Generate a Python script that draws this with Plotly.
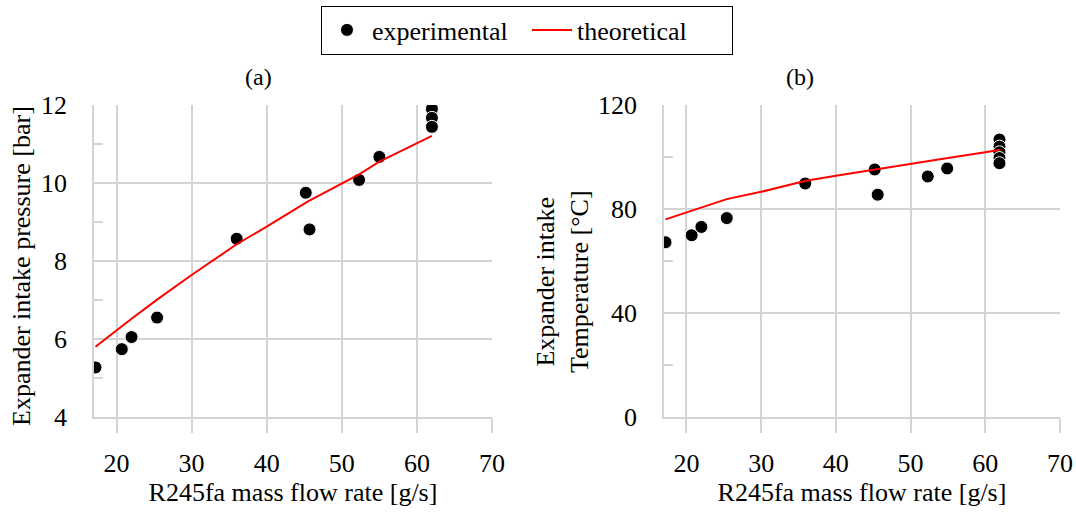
import plotly.graph_objects as go

# ---- data ----
flow_exp_p = [17.2, 20.7, 22.0, 25.4, 36.0, 45.2, 45.7, 52.3, 55.0, 62.0, 62.0, 62.0]
pressure_exp = [5.27, 5.74, 6.05, 6.55, 8.57, 9.75, 8.81, 10.08, 10.67, 11.90, 11.67, 11.44]

flow_exp_t = [17.2, 20.7, 22.0, 25.4, 35.9, 45.2, 45.6, 52.3, 54.9, 61.9, 61.9, 61.9, 61.9, 61.9]
temp_exp = [67.2, 69.9, 73.1, 76.5, 89.8, 95.2, 85.5, 92.5, 95.6, 106.7, 104.0, 101.8, 99.6, 97.6]

flow_theo = [17.2, 20.7, 22.0, 25.4, 30.0, 36.0, 40.0, 45.5, 50.0, 52.3, 55.0, 60.0, 62.0]
pressure_theo = [5.80, 6.33, 6.52, 7.01, 7.64, 8.43, 8.88, 9.53, 9.99, 10.22, 10.55, 11.02, 11.21]
temp_theo = [76.0, 79.3, 80.6, 83.8, 86.6, 90.9, 92.8, 95.3, 97.6, 98.5, 99.6, 101.8, 102.8]

x_ticks = [20, 30, 40, 50, 60, 70]

FONT = "Liberation Serif"
FS = 26
GRID = "#d4d4d4"

fig = go.Figure()

marker = dict(color="black", size=13, line=dict(color="white", width=1))

fig.add_trace(go.Scatter(x=flow_exp_p, y=pressure_exp, mode="markers", marker=marker,
                         name="experimental", xaxis="x", yaxis="y"))
fig.add_trace(go.Scatter(x=flow_theo, y=pressure_theo, mode="lines",
                         line=dict(color="#ff0000", width=2), name="theoretical",
                         xaxis="x", yaxis="y"))
fig.add_trace(go.Scatter(x=flow_exp_t, y=temp_exp, mode="markers", marker=marker,
                         showlegend=False, xaxis="x2", yaxis="y2"))
fig.add_trace(go.Scatter(x=flow_theo, y=temp_theo, mode="lines",
                         line=dict(color="#ff0000", width=2), showlegend=False,
                         xaxis="x2", yaxis="y2"))

W, H = 1076, 515
def px_x(p): return p / W
def px_y(p): return 1 - p / H

tfont = dict(family=FONT, size=FS, color="black")

xcommon = dict(range=[17, 70], tickvals=x_ticks, showgrid=True, gridcolor=GRID, gridwidth=1.5,
               showline=True, linecolor=GRID, linewidth=1.5, ticks="outside", ticklen=14,
               tickcolor=GRID, tickwidth=1.5, zeroline=False, ticklabelstandoff=8,
               tickfont=tfont,
               title=dict(text="R245fa mass flow rate [g/s]", font=tfont, standoff=0))
ycommon = dict(showgrid=True, gridcolor=GRID, gridwidth=1.5, showline=True, linecolor=GRID,
               linewidth=1.5, ticks="", zeroline=False, ticklabelstandoff=20,
               tickfont=tfont,
               minor=dict(ticks="inside", ticklen=9, tickcolor=GRID, tickwidth=1.5, showgrid=False))

fig.update_layout(
    width=W, height=H,
    margin=dict(l=0, r=0, t=0, b=0, autoexpand=False),
    plot_bgcolor="white", paper_bgcolor="white",
    font=dict(family=FONT, color="black"),
    xaxis=dict(domain=[px_x(94), px_x(492)], anchor="y", **xcommon),
    yaxis=dict(domain=[px_y(417), px_y(105)], anchor="x", range=[4, 12], dtick=2, **ycommon),
    xaxis2=dict(domain=[px_x(664), px_x(1060)], anchor="y2", **xcommon),
    yaxis2=dict(domain=[px_y(417), px_y(105)], anchor="x2", range=[0, 120], dtick=40, **ycommon),
    showlegend=True,
    legend=dict(orientation="h", x=527 / W, y=px_y(30), xanchor="center", yanchor="middle",
                bordercolor="black", borderwidth=1, bgcolor="white",
                font=tfont, itemwidth=40, tracegroupgap=0,
                entrywidth=150, entrywidthmode="pixels"),
)
fig.layout.yaxis.minor.dtick = 1
fig.layout.yaxis2.minor.dtick = 20

ann_font = dict(family=FONT, size=24, color="black")
fig.add_annotation(text="(a)", x=px_x(258), y=px_y(77), xref="paper", yref="paper",
                   showarrow=False, font=ann_font, xanchor="center", yanchor="middle")
fig.add_annotation(text="(b)", x=px_x(800), y=px_y(77), xref="paper", yref="paper",
                   showarrow=False, font=ann_font, xanchor="center", yanchor="middle")
fig.add_annotation(text="Expander intake pressure [bar]", x=px_x(21), y=px_y(266),
                   xref="paper", yref="paper", showarrow=False, font=tfont, textangle=-90,
                   xanchor="center", yanchor="middle")
fig.add_annotation(text="Expander intake<br>Temperature [°C]", x=px_x(562), y=px_y(282),
                   xref="paper", yref="paper", showarrow=False, font=tfont, textangle=-90,
                   xanchor="center", yanchor="middle")

fig.write_html("out.html")
